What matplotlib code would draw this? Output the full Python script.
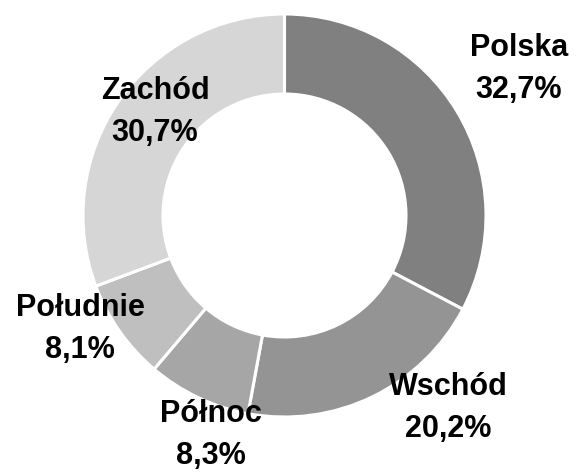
import matplotlib

matplotlib.use("Agg")
import matplotlib.pyplot as plt

# data
regions = ["Polska", "Wschód", "Północ", "Południe", "Zachód"]
shares = [32.7, 20.2, 8.3, 8.1, 30.7]
colors = ["#808080", "#949494", "#a6a6a6", "#bfbfbf", "#d6d6d6"]

# label block centres in pixels (x from left, y from top)
label_pos = [(519, 69), (448, 408), (211, 435), (80, 329), (155, 112)]

W, H = 580, 472
CX, CY, R = 284.5, 215.5, 201.5
RING = 80

plt.rcParams["font.family"] = ["Liberation Sans", "DejaVu Sans"]

fig = plt.figure(figsize=(W / 100, H / 100), dpi=100)
ax = fig.add_axes([0, 0, 1, 1])

ax.pie(
    shares,
    colors=colors,
    startangle=90,
    counterclock=False,
    center=(CX, H - CY),
    radius=R,
    frame=True,
    wedgeprops={"width": RING, "edgecolor": "white", "linewidth": 2.2},
)
ax.set_xlim(0, W)
ax.set_ylim(0, H)
ax.set_aspect("auto")
ax.axis("off")

for name, val, (px, py) in zip(regions, shares, label_pos):
    txt = f"{name}\n{val:.1f}%".replace(".", ",")
    ax.text(px, H - py, txt, ha="center", va="center", fontsize=22,
            fontweight="bold", color="black", linespacing=1.55)

fig.savefig("out.png", dpi=100)
